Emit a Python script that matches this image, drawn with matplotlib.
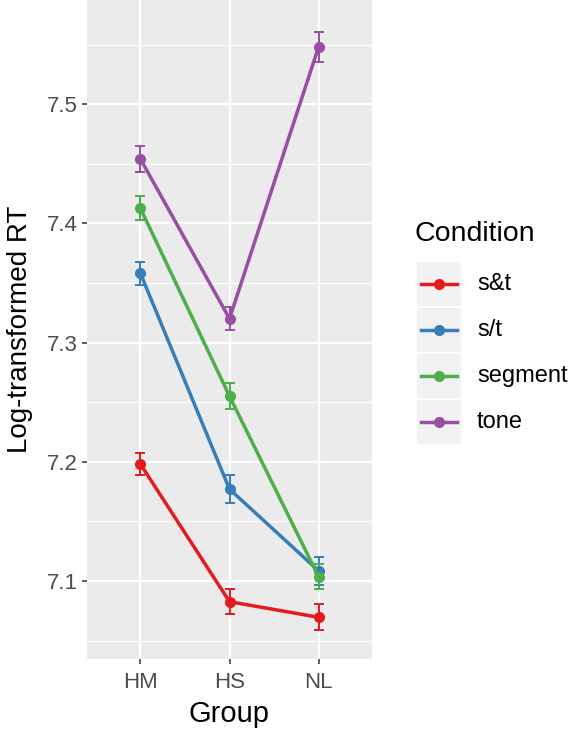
import matplotlib
matplotlib.use("Agg")
import matplotlib.pyplot as plt
from matplotlib.lines import Line2D
from matplotlib.patches import Rectangle
import numpy as np

plt.rcParams['font.family'] = ['Liberation Sans', 'DejaVu Sans']

groups = ["HM", "HS", "NL"]
conditions = ["s&t", "s/t", "segment", "tone"]
colors = ["#E41A1C", "#377EB8", "#4DAF4A", "#984EA3"]

mean_st_and = [7.198, 7.0826, 7.0695]
mean_st_slash = [7.358, 7.177, 7.1085]
mean_segment = [7.4126, 7.255, 7.1035]
mean_tone = [7.454, 7.320, 7.548]

se_st_and = [0.009, 0.0105, 0.0108]
se_st_slash = [0.010, 0.0115, 0.0117]
se_segment = [0.010, 0.011, 0.0105]
se_tone = [0.0106, 0.0098, 0.0127]

means = [mean_st_and, mean_st_slash, mean_segment, mean_tone]
ses = [se_st_and, se_st_slash, se_segment, se_tone]

W, H = 573, 730
fig = plt.figure(figsize=(W / 100, H / 100), dpi=100)
ax = fig.add_axes([87 / W, (H - 659) / H, (372 - 87) / W, 659 / H])
ax.set_facecolor("#EBEBEB")
for s in ax.spines.values():
    s.set_visible(False)

x = np.arange(1, len(groups) + 1)
for m, e, c in zip(means, ses, colors):
    ax.errorbar(x, m, yerr=e, color=c, lw=2.5, marker="o", ms=7,
                elinewidth=1.4, capsize=3.4, capthick=1.4, zorder=3)

ax.set_xlim(0.4, 3.6)
ax.set_ylim(7.0345, 7.5874)
ax.set_xticks(x)
ax.set_xticklabels(groups)
ax.set_yticks([7.1, 7.2, 7.3, 7.4, 7.5])
ax.set_yticks([7.05, 7.15, 7.25, 7.35, 7.45, 7.55], minor=True)
ax.grid(which="major", color="white", lw=1.6)
ax.grid(which="minor", axis="y", color="white", lw=0.8)
ax.set_axisbelow(True)
ax.tick_params(which="major", length=3.6, width=1.1, color="#333333",
               labelcolor="#4D4D4D", labelsize=16, pad=3)
ax.tick_params(axis="x", which="major", pad=5.5)
ax.tick_params(which="minor", length=0)
ax.set_xlabel("Group", fontsize=21, color="black", labelpad=5)
ax.set_ylabel("Log-transformed RT", fontsize=20, color="black", labelpad=10)

# legend drawn in figure pixel coordinates
lax = fig.add_axes([0, 0, 1, 1])
lax.set_xlim(0, W)
lax.set_ylim(H, 0)
lax.axis("off")
lax.text(415, 234, "Condition", fontsize=20.5, va="center", ha="left")
key_top = 261
key_h = 46
for i, (lab, c) in enumerate(zip(conditions, colors)):
    y0 = key_top + i * key_h
    lax.add_patch(Rectangle((417, y0 + 1), 44, key_h - 2, facecolor="#F2F2F2",
                            edgecolor="none"))
    yc = y0 + key_h / 2
    lax.add_line(Line2D([421, 457], [yc, yc], color=c, lw=2.5))
    lax.add_line(Line2D([439], [yc], color=c, marker="o", ms=7))
    lax.text(477, yc, lab, fontsize=17, va="center", ha="left")

fig.savefig("out.png", dpi=100)
